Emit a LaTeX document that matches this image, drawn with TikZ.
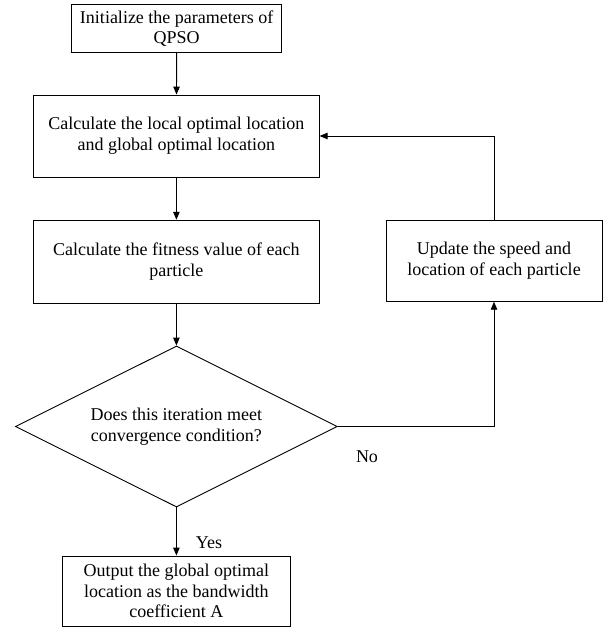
\documentclass[tikz,border=0pt]{standalone}
\usepackage{fontspec}
\setmainfont{Liberation Serif}
\usetikzlibrary{positioning,shapes.geometric,arrows.meta}

\begin{document}
\begin{tikzpicture}[x=1pt,y=-1pt,font=\fontsize{18pt}{20.7pt}\selectfont,
      bx/.style={draw,line width=0.9pt,align=center,inner sep=0pt},
      dc/.style={draw,diamond,aspect=2,line width=0.9pt,align=center,inner sep=0pt,minimum width=322pt,minimum height=161pt},
      ar/.style={-{Triangle[length=8pt,width=6.5pt]},line width=0.9pt}]
      \useasboundingbox (0,0) rectangle (606,630);
      \node[bx,minimum width=210pt,minimum height=48pt] (init) at (176.7,28.7) {Initialize the parameters of\\QPSO};
      \node[bx,minimum width=285.5pt,minimum height=82pt] (loc) at (176.4,136) {Calculate the local optimal location\\and global optimal location};
      \node[bx,minimum width=285.5pt,minimum height=83pt] (fit) at (176.4,261.7) {Calculate the fitness value of each\\particle};
      \node[bx,minimum width=216pt,minimum height=80.5pt] (upd) at (494,261) {Update the speed and\\location of each particle};
      \node[dc] (dec) at (176.4,426.5) {Does this iteration meet\\convergence condition?};
      \node[bx,minimum width=228.7pt,minimum height=70pt] (out) at (176.4,591) {Output the global optimal\\location as the bandwidth\\coefficient A};
      \node (no) at (367,457) {No};
      \node (yes) at (209,543) {Yes};
      \draw[ar] (init) -- (loc); \draw[ar] (loc) -- (fit); \draw[ar] (fit) -- (dec.north);
      \draw[ar] (dec.south) -- (out);
      \draw[ar] (dec.east) -| (upd.south);
      \draw[ar] (upd.north) |- (loc.east);
    \end{tikzpicture}
\end{document}
